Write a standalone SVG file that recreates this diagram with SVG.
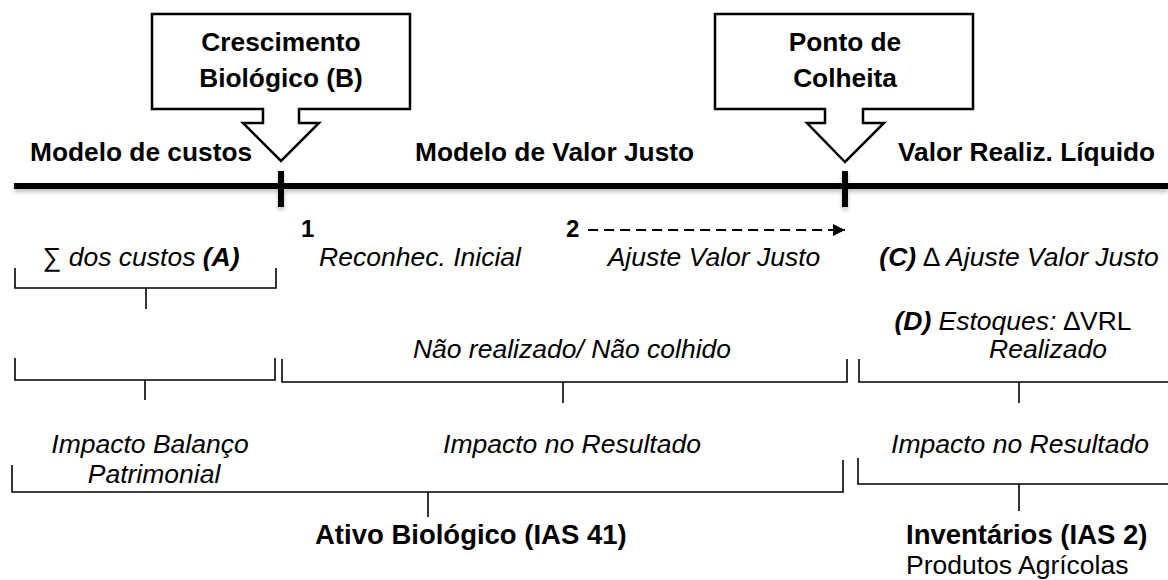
<svg xmlns="http://www.w3.org/2000/svg" width="1168" height="580" viewBox="0 0 1168 580">
<defs>
<style>
text{font-family:"Liberation Sans",Arial,sans-serif;fill:#000}
.b{font-weight:bold;font-size:26.3px}
.i{font-style:italic;font-size:26.5px}
.bb{font-weight:bold;font-size:27.5px}
.n{font-size:26.5px}
.call{fill:#fff;stroke:#000;stroke-width:2.5}
.br{fill:none;stroke:#000;stroke-width:1.6}
.tl{stroke:#000;stroke-width:6;fill:none}
.up{font-style:normal}
.bi{font-weight:bold;font-style:italic}
</style>
<filter id="sh" x="-5%" y="-50%" width="110%" height="300%">
<feDropShadow dx="0" dy="3" stdDeviation="2" flood-color="#000" flood-opacity="0.25"/>
</filter>
<marker id="ah" viewBox="0 0 10 10" refX="10" refY="5" markerWidth="15" markerHeight="12" markerUnits="userSpaceOnUse" orient="auto">
<path d="M0,0 L10,5 L0,10 Z" fill="#000"/>
</marker>
</defs>

<g id="timeline" filter="url(#sh)">
<line class="tl" x1="14" y1="186" x2="1168" y2="186"/>
<line class="tl" x1="281" y1="171" x2="281" y2="207"/>
<line class="tl" x1="845" y1="171" x2="845" y2="207"/>
</g>

<g id="callout-crescimento">
<path class="call" d="M152,14 H410 V109 H299 V123 H319 L281,161 L243,123 H263 V109 H152 Z"/>
<text class="b" x="281" y="51" text-anchor="middle">Crescimento</text>
<text class="b" x="281" y="87" text-anchor="middle">Biológico (B)</text>
</g>

<g id="callout-colheita">
<path class="call" d="M715,14 H973 V109 H863 V123 H884 L845,162 L807,123 H825 V109 H715 Z"/>
<text class="b" x="845" y="51" text-anchor="middle">Ponto de</text>
<text class="b" x="845" y="87" text-anchor="middle">Colheita</text>
</g>

<g id="phase-labels">
<text class="b" x="30" y="161">Modelo de custos</text>
<text class="b" x="415" y="161">Modelo de Valor Justo</text>
<text class="b" x="898" y="161">Valor Realiz. Líquido</text>
</g>

<g id="markers">
<text class="b" x="301" y="237" style="font-size:24px">1</text>
<text class="b" x="566" y="237" style="font-size:24px">2</text>
</g>

<g id="row1">
<text class="i" x="141" y="266" text-anchor="middle"><tspan class="up">∑</tspan> dos custos <tspan class="bi">(A)</tspan></text>
<text class="i" x="420" y="266" text-anchor="middle">Reconhec. Inicial</text>
<text class="i" x="714" y="266" text-anchor="middle">Ajuste Valor Justo</text>
<text class="i" x="1019" y="266" text-anchor="middle"><tspan class="bi">(C)</tspan> <tspan class="up">∆</tspan> Ajuste Valor Justo</text>
</g>

<g id="row2">
<text class="i" x="1013" y="330" text-anchor="middle"><tspan class="bi">(D)</tspan> Estoques: <tspan class="up">∆VRL</tspan></text>
<text class="i" x="1048" y="358" text-anchor="middle">Realizado</text>
<text class="i" x="572" y="358" text-anchor="middle">Não realizado/ Não colhido</text>
</g>

<g id="row3">
<text class="i" x="150" y="453" text-anchor="middle">Impacto Balanço</text>
<text class="i" x="154" y="483" text-anchor="middle">Patrimonial</text>
<text class="i" x="572" y="453" text-anchor="middle">Impacto no Resultado</text>
<text class="i" x="1020" y="453" text-anchor="middle">Impacto no Resultado</text>
</g>

<g id="classification">
<text class="bb" x="315" y="544">Ativo Biológico (IAS 41)</text>
<text class="bb" x="906" y="544">Inventários (IAS 2)</text>
<text class="n" x="906" y="574">Produtos Agrícolas</text>
</g>

<g id="connectors">
<line x1="588" y1="230" x2="845" y2="230" stroke="#000" stroke-width="2" stroke-dasharray="10,6" marker-end="url(#ah)"/>
<path class="br" d="M15,268 V288 H276 V268 M146,288 V309"/>
<path class="br" d="M15,358 V380 H275 V358 M145,380 V400"/>
<path class="br" d="M282,359 V382 H847 V359 M563,382 V403"/>
<path class="br" d="M859,359 V382 H1168 M1019,382 V403"/>
<path class="br" d="M12,465 V492 H843 V460 M428,492 V517"/>
<path class="br" d="M858,458 V484 H1168 M1019,484 V511"/>
</g>
</svg>
